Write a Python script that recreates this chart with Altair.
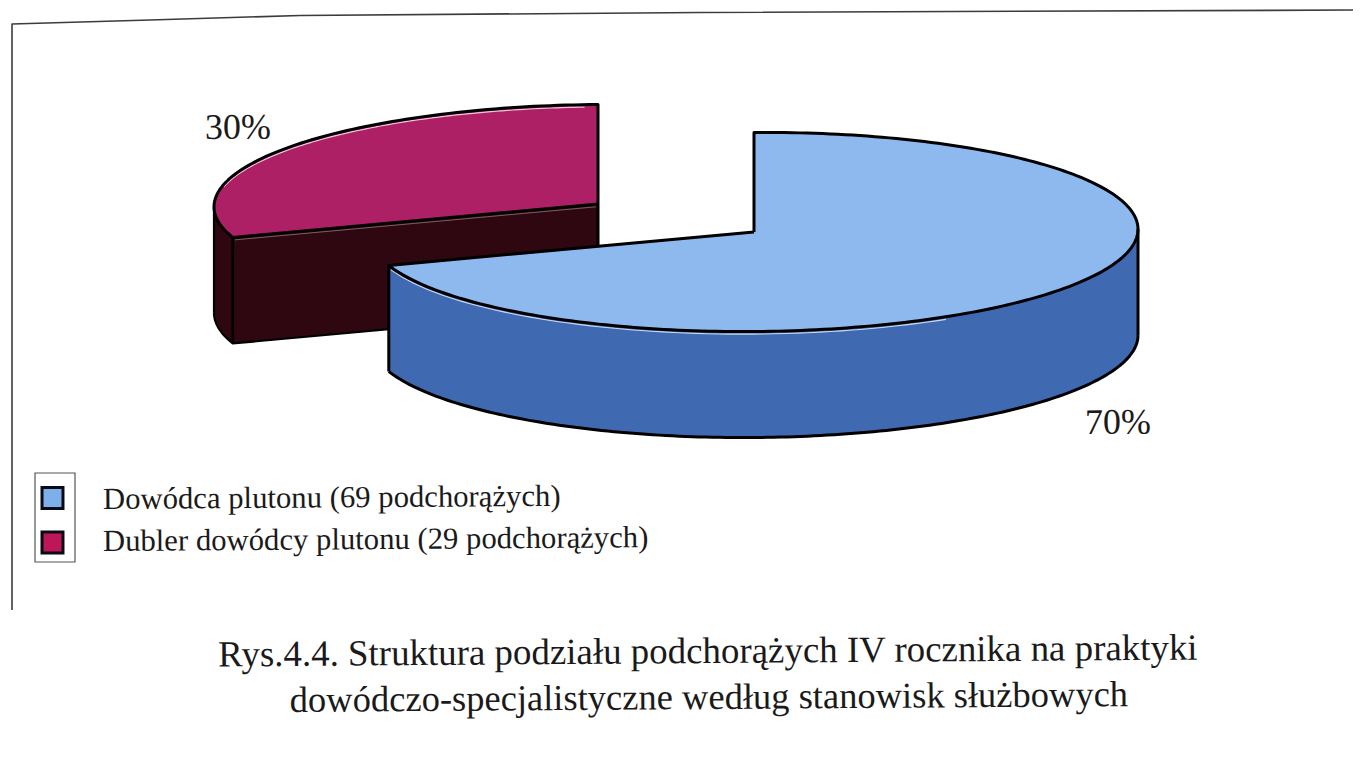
import math
import altair as alt
import pandas as pd

# ---- values
names = ["Dowódca plutonu", "Dubler dowódcy plutonu"]
counts = [69, 29]
shares = [70, 30]
top_colors = ["#8db9ee", "#ae2066"]
side_colors = ["#3f6ab2", "#2e0710"]
key_colors = ["#7db0e8", "#bd1659"]
caption = [
    "Rys.4.4. Struktura podziału podchorążych IV rocznika na praktyki",
    "dowódczo-specjalistyczne według stanowisk służbowych",
]

# ---- layout of the page (image pixels)
W, H = 1345, 748
SLOPE = -0.0074          # the scan is very slightly rotated
A, B, DEPTH = 384, 99.5, 106
BLUE_C = (754, 232)
RED_C = (598, 204)
FONT = "Liberation Serif"
ANGLE = 359.6

SX = alt.Scale(domain=[8, 8 + W], range=[0, W], nice=False, zero=False)
SY = alt.Scale(domain=[8, 8 + H], range=[0, H], nice=False, zero=False)
X = alt.X("x:Q", scale=SX, axis=None)
Y = alt.Y("y:Q", scale=SY, axis=None)
Y2 = alt.Y2("y2:Q")
X2 = alt.X2("x2:Q")

split = 360 * shares[0] / sum(shares)


def rim(c, t, drop=0.0):
    """Point of the slice's elliptical edge at clockwise angle t from the top."""
    r = math.radians(t)
    x = c[0] + A * math.sin(r)
    y = c[1] - B * math.cos(r) + SLOPE * (x - c[0]) + drop
    return x, y


def radial(c, start, x):
    """y on the straight cut from the centre to the rim at angle start."""
    x0, y0 = rim(c, start)
    return c[1] + (y0 - c[1]) * (x - c[0]) / (x0 - c[0])


def steps(a, b, n=90):
    return [a + (b - a) * i / n for i in range(n + 1)]


def area(rows, color):
    df = pd.DataFrame(rows, columns=["x", "y", "y2"])
    return alt.Chart(df).mark_area(color=color, interpolate="linear").encode(x=X, y=Y, y2=Y2)


def line(points, color="#000000", width=3.0, opacity=1.0):
    df = pd.DataFrame(points, columns=["x", "y"]).reset_index(names="o")
    return alt.Chart(df).mark_line(color=color, strokeWidth=width, opacity=opacity,
                                   interpolate="linear", strokeJoin="round").encode(
        x=X, y=Y, order="o:Q")


layers = []

# ---- page frame of the scan
layers.append(line([(12, 610), (12, 24), (150, 20), (300, 15.5), (700, 12.5), (1361, 10)],
                   color="#3c3c3c", width=1.6))

# ---- second slice (30 %), drawn first because it sits behind
c = RED_C
p_end = rim(c, split)
# outer wall seen at the far left
rows = [(rim(c, t)[0], rim(c, t)[1], rim(c, t, DEPTH)[1]) for t in steps(270, split, 30)]
layers.append(area(rows, side_colors[1]))
# cut wall
rows = [(x, radial(c, split, x), radial(c, split, x) + DEPTH) for x in steps(p_end[0], c[0], 20)]
layers.append(area(rows, side_colors[1]))
# top face
rows = []
for t in steps(270, 360):
    x, yu = rim(c, t)
    if x <= p_end[0]:
        tl = 180 + math.degrees(math.asin((c[0] - x) / A))
        low = rim(c, tl)[1]
    else:
        low = radial(c, split, x)
    rows.append((x, yu, low))
layers.append(area(rows, top_colors[1]))
layers.append(line([rim(c, t, 2.4) for t in steps(283, 358)], color="#f4e8ee", width=1.2, opacity=0.85))
layers.append(line([(x, radial(c, split, x) + 2.6) for x in steps(p_end[0] + 2, c[0] - 2, 10)],
                   color="#a08088", width=1.0, opacity=0.7))
layers.append(line([(c[0], c[1] + DEPTH)] + [c] +
                   [rim(c, t) for t in steps(360, split)] + [c], width=3.0))
layers.append(line([rim(c, t, DEPTH) for t in steps(270, split, 30)] + [(c[0], c[1] + DEPTH)], width=2.2))
layers.append(line([rim(c, 270), rim(c, 270, DEPTH)], width=2.2))
layers.append(line([p_end, (p_end[0], p_end[1] + DEPTH)], width=2.6))

# ---- first slice (70 %)
c = BLUE_C
p_end = rim(c, split)
rows = [(rim(c, t)[0], rim(c, t)[1], rim(c, t, DEPTH)[1]) for t in steps(split, 90, 160)]
layers.append(area(rows, side_colors[0]))
rows = []
for t in steps(split, 180, 60):          # left part: cut above, rim below
    x, yl = rim(c, t)
    rows.append((x, radial(c, split, x), yl))
for t in steps(360, 450, 90):            # right part: rim above and below
    x, yu = rim(c, t)
    yl = rim(c, 180 - (t - 360))[1]
    rows.append((x + 0.01, yu, yl))
layers.append(area(rows, top_colors[0]))
layers.append(line([rim(c, t, 2.6) for t in steps(split - 1, 150, 60)],
                   color="#f2f4f8", width=1.1, opacity=0.8))
layers.append(line([c] + [rim(c, t) for t in steps(360, 360 + split, 220)] + [c], width=3.0))
layers.append(line([rim(c, t, DEPTH) for t in steps(split, 90, 160)], width=3.0))
layers.append(line([p_end, (p_end[0], p_end[1] + DEPTH)], width=3.0))
layers.append(line([rim(c, 90), rim(c, 90, DEPTH)], width=3.0))


def text(rows, size, align="left"):
    df = pd.DataFrame(rows, columns=["x", "y", "t"])
    return alt.Chart(df).mark_text(font=FONT, fontSize=size, align=align, baseline="alphabetic",
                                   angle=ANGLE, color="#1a1a1a").encode(x=X, y=Y, text="t:N")


# ---- percentage labels
layers.append(text([(205, 139, f"{shares[1]}%"), (1085, 434, f"{shares[0]}%")], 36))

# ---- legend
frame = pd.DataFrame([{"x": 35, "x2": 75, "y": 473, "y2": 562}])
layers.append(alt.Chart(frame).mark_rect(fill="#ffffff", stroke="#555555", strokeWidth=1.2).encode(
    x=X, x2=X2, y=Y, y2=Y2))
keys = pd.DataFrame({"x": [52.5, 52.5], "y": [498, 542.5], "c": key_colors})
layers.append(alt.Chart(keys).mark_square(size=440, opacity=1, stroke="#0a0a14", strokeWidth=3).encode(
    x=X, y=Y, fill=alt.Fill("c:N", scale=None)))
layers.append(text([(103, 509, f"{names[0]} ({counts[0]} podchorążych)"),
                    (103, 551, f"{names[1]} ({counts[1]} podchorążych)")], 30.7))

# ---- caption
layers.append(text([(708, 663, caption[0])], 36.9, align="center"))
layers.append(text([(709, 709, caption[1])], 36.5, align="center"))

chart = (
    alt.layer(*layers)
    .properties(width=W, height=H, padding=0, background="#ffffff",
                autosize=alt.AutoSizeParams(type="none"))
    .configure_view(stroke=None)
)
chart.save("out.html", embed_options={"renderer": "svg", "actions": False})
